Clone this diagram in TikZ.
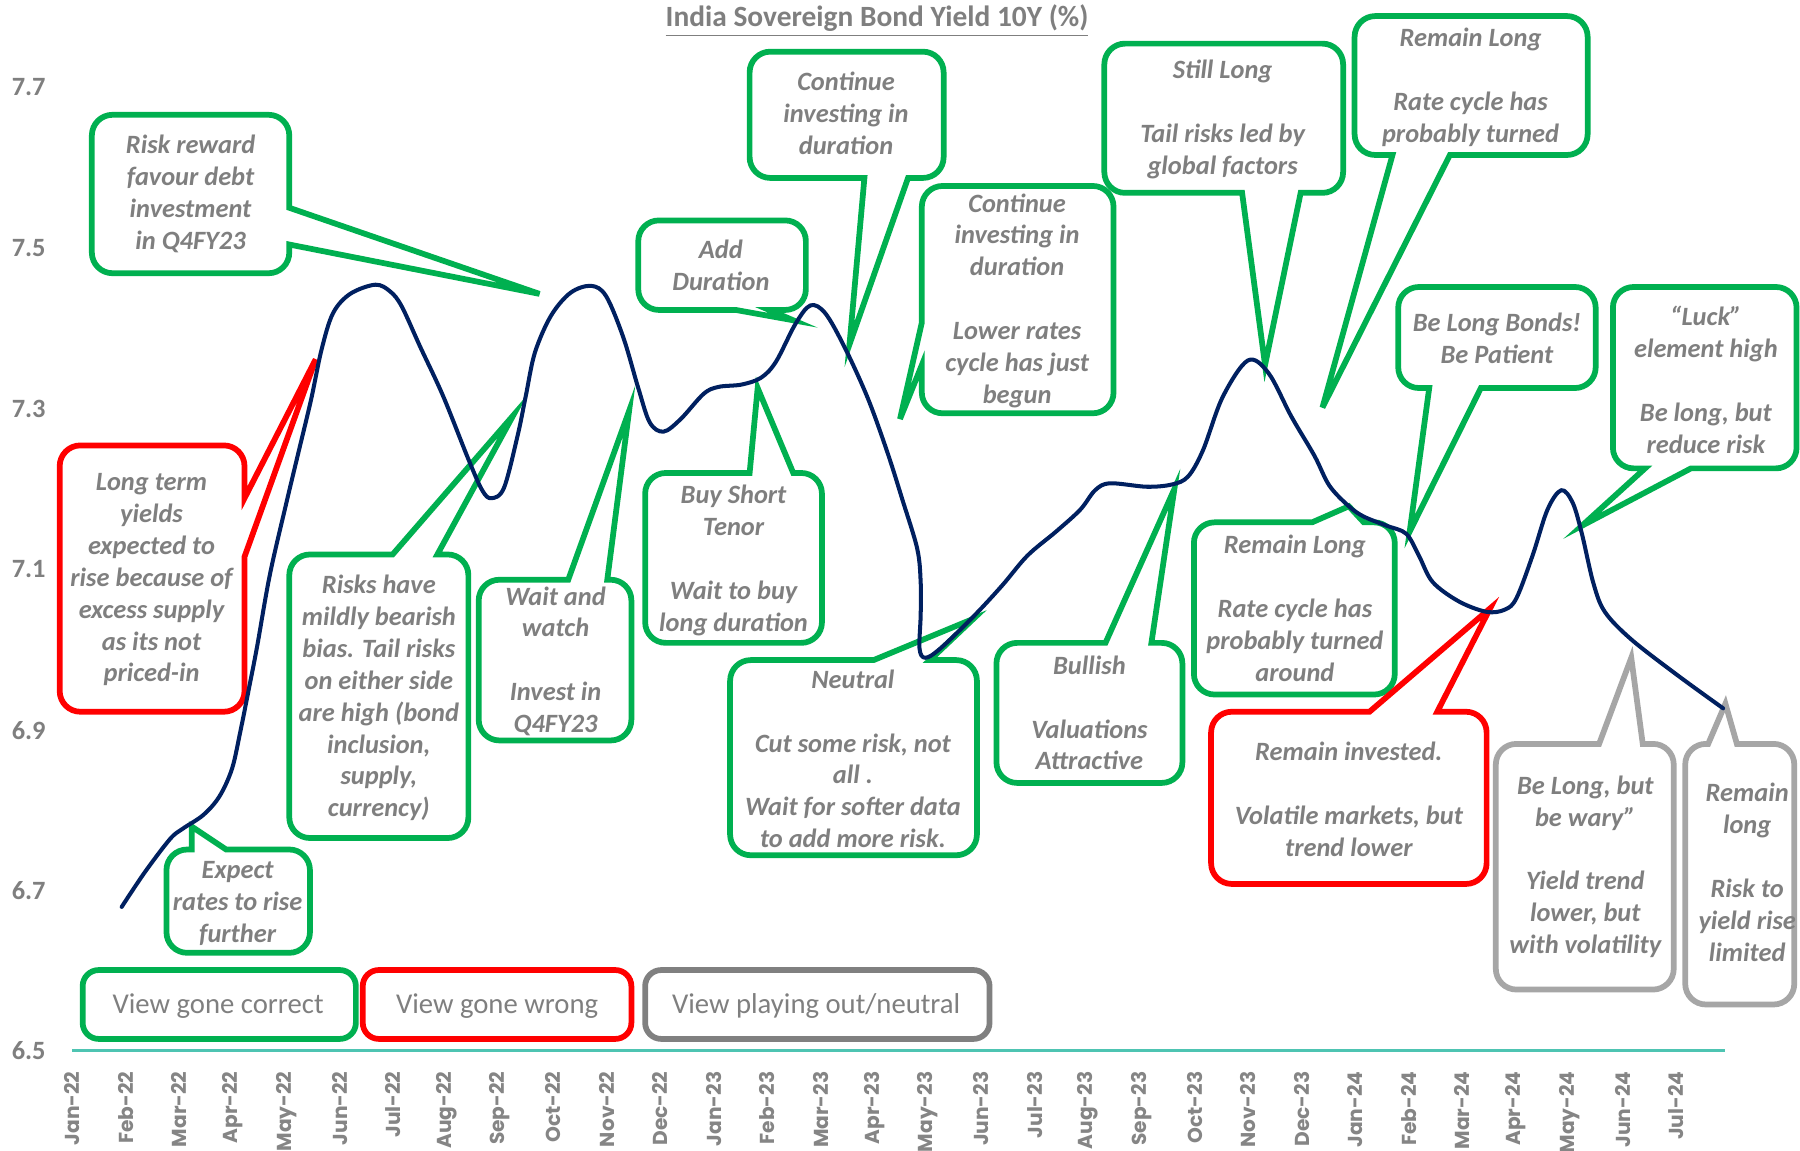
\documentclass[tikz,border=0pt]{standalone}
\usepackage{fontspec}
\setmainfont{Carlito}
\newfontfamily\monthfont{Poppins}
\definecolor{cgreen}{HTML}{00B050}
\definecolor{cred}{HTML}{FF0000}
\definecolor{cgrey}{HTML}{A6A6A6}
\definecolor{cdgrey}{HTML}{808080}
\definecolor{ctext}{HTML}{7F7F7F}
\definecolor{cnavy}{HTML}{002060}
\definecolor{cteal}{HTML}{4EC4B2}
\definecolor{cmonth}{HTML}{858585}
\tikzset{
  cbox/.style={line width=2.5pt, fill=white, line join=miter, rounded corners=9pt},
  gbox/.style={cbox, draw=cgreen},
  rbox/.style={cbox, draw=cred},
  ybox/.style={cbox, draw=cgrey},
  ctxt/.style={text=ctext, font=\fontsize{11.5}{13.9}\selectfont\bfseries\itshape, align=center, inner sep=0pt},
  legbox/.style={line width=2.5pt, rounded corners=7pt, fill=white},
  legtxt/.style={text=ctext, font=\fontsize{12.5}{15}\selectfont, inner sep=0pt},
  ylab/.style={text=ctext, font=\fontsize{11.5}{14}\selectfont\bfseries, inner sep=0pt},
  month/.style={text=cmonth, font=\monthfont\fontsize{8.8}{11}\selectfont\bfseries, rotate=90, anchor=east, inner sep=0pt},
  yieldcurve/.style={draw=cnavy, line width=1.75pt, line join=round, line cap=round},
  axisline/.style={draw=cteal, line width=1.5pt},
  titletxt/.style={text=ctext, font=\fontsize{12.8}{15}\selectfont\bfseries, inner sep=0pt}
}
% corners are rounded according to the setting in force when the path reaches them
% callout with pointer on top edge: style, x1,y1,x2,y2, xa,xb, tip
\newcommand\CallTop[8]{\draw[#1] (#2,{(#3+#5)/2}) -- (#2,#3) [sharp corners] -- (#6,#3) -- (#8) -- (#7,#3) [rounded corners=9pt] -- (#4,#3) -- (#4,#5) -- (#2,#5) -- cycle;}
% pointer on bottom edge
\newcommand\CallBot[8]{\draw[#1] (#2,{(#3+#5)/2}) -- (#2,#3) -- (#4,#3) -- (#4,#5) [sharp corners] -- (#7,#5) -- (#8) -- (#6,#5) [rounded corners=9pt] -- (#2,#5) -- cycle;}
% pointer on right edge: ya upper, yb lower
\newcommand\CallRight[8]{\draw[#1] (#2,{(#3+#5)/2}) -- (#2,#3) -- (#4,#3) [sharp corners] -- (#4,#6) -- (#8) -- (#4,#7) [rounded corners=9pt] -- (#4,#5) -- (#2,#5) -- cycle;}
% pointer on left edge: ya upper, yb lower
\newcommand\CallLeft[8]{\draw[#1] ({(#2+#4)/2},#3) -- (#4,#3) -- (#4,#5) -- (#2,#5) [sharp corners] -- (#2,#7) -- (#8) -- (#2,#6) [rounded corners=9pt] -- (#2,#3) -- cycle;}
\begin{document}
\begin{tikzpicture}[x=0.5pt, y=-0.5pt]
\useasboundingbox (0,0) rectangle (1568,1002);
\fill[white] (0,0) rectangle (1568,1002);

% title
\node[titletxt] (title) at (764,18) {\underline{India Sovereign Bond Yield 10Y (\%)}};

% y labels
\foreach \v/\yy/\nm in {7.7/76/a, 7.5/216/b, 7.3/356/c, 7.1/496/d, 6.9/636/e, 6.7/776/f, 6.5/915/g}
  \node[ylab] (ylab\nm) at (25,\yy) {\v};

% axis line
\coordinate (axL) at (63,915);
\coordinate (axR) at (1503,915);
\draw[axisline] (axL) -- (axR);

% month labels
\foreach \m [count=\i from 0] in {Jan-22,Feb-22,Mar-22,Apr-22,May-22,Jun-22,Jul-22,Aug-22,Sep-22,Oct-22,Nov-22,Dec-22,Jan-23,Feb-23,Mar-23,Apr-23,May-23,Jun-23,Jul-23,Aug-23,Sep-23,Oct-23,Nov-23,Dec-23,Jan-24,Feb-24,Mar-24,Apr-24,May-24,Jun-24,Jul-24}
  \node[month] (mon\i) at ({63+46.57*\i},933) {\m};

% legend
\draw[legbox, draw=cgreen] (72,845) rectangle (310,905);
\node[legtxt] (leg1) at (190,876) {View gone correct};
\draw[legbox, draw=cred] (316,845) rectangle (550,905);
\node[legtxt] (leg2) at (433,876) {View gone wrong};
\draw[legbox, draw=cdgrey] (562,845) rectangle (862,905);
\node[legtxt] (leg3) at (711,876) {View playing out/neutral};

% callouts
\CallRight{gbox}{80}{100}{252}{238}{181}{213}{470,256}
\node[ctxt] (t1) at (166,169) {Risk reward\\favour debt\\investment\\in Q4FY23};

\CallRight{rbox}{52}{388}{213}{620}{434}{485}{275,313}
\node[ctxt] (t2) at (132,505) {Long term\\yields\\expected to\\rise because of\\excess supply\\as its not\\priced-in};

\CallTop{gbox}{145}{740}{270}{830}{167}{197}{167,720}
\node[ctxt] (t3) at (207,787) {Expect\\rates to rise\\further};

\CallTop{gbox}{252}{483}{408}{730}{342}{381}{447,362}
\node[ctxt] (t4) at (330,608) {Risks have\\mildly bearish\\bias. Tail risks\\on either side\\are high (bond\\inclusion,\\supply,\\currency)};

\CallTop{gbox}{417}{505}{550}{645}{495}{529}{548,358}
\node[ctxt] (t5) at (484,576) {Wait and\\watch\\[13.9pt]Invest in\\Q4FY23};

\CallBot{gbox}{556}{192}{702}{270}{641}{670}{691,279}
\node[ctxt] (t6) at (628,231) {Add\\Duration};

\CallBot{gbox}{653}{45}{822}{155}{753}{791}{740,300}
\node[ctxt] (t7) at (737,99) {Continue\\investing in\\duration};

\CallLeft{gbox}{803}{162}{970}{360}{281}{318}{784,365}
\node[ctxt] (t8) at (886,262) {Continue\\investing in\\duration\\[13.9pt]Lower rates\\cycle has just\\begun};

\CallBot{gbox}{962}{38}{1170}{168}{1082}{1133}{1102,318}
\node[ctxt] (t9) at (1065,104) {Still Long\\[13.9pt]Tail risks led by\\global factors};

\CallBot{gbox}{1180}{14}{1383}{135}{1213}{1263}{1152,355}
\node[ctxt] (t10) at (1281,76) {Remain Long\\[13.9pt]Rate cycle has\\probably turned};

\CallBot{gbox}{1218}{250}{1390}{338}{1245}{1290}{1228,463}
\node[ctxt] (t11) at (1304,295) {Be Long Bonds!\\Be Patient};

\CallBot{gbox}{1405}{250}{1565}{408}{1433}{1473}{1378,458}
\node[ctxt] (t12) at (1486,331) {“Luck”\\element high\\[13.9pt]Be long, but\\reduce risk};

\CallTop{gbox}{562}{412}{716}{560}{653}{691}{660,338}
\node[ctxt] (t13) at (639,488) {Buy Short\\Tenor\\[13.9pt]Wait to buy\\long duration};

\CallTop{gbox}{636}{575}{851}{745}{761}{810}{848,539}
\node[ctxt] (t14) at (743,661) {Neutral\\[13.9pt]Cut some risk, not\\all .\\Wait for softer data\\to add more risk.};

\CallTop{gbox}{868}{560}{1030}{682}{963}{1003}{1023,426}
\node[ctxt] (t15) at (949,621) {Bullish\\[13.9pt]Valuations\\Attractive};

\CallTop{gbox}{1040}{455}{1215}{605}{1143}{1188}{1175,441}
\node[ctxt] (t16) at (1128,530) {Remain Long\\[13.9pt]Rate cycle has\\probably turned\\around};

\CallTop{rbox}{1055}{620}{1295}{770}{1193}{1252}{1298,530}
\node[ctxt] (t17) at (1175,696) {Remain invested.\\[13.9pt]Volatile markets, but\\trend lower};

\CallTop{ybox}{1303}{648}{1458}{862}{1393}{1431}{1421,573}
\node[ctxt] (t18) at (1381,755) {Be Long, but\\be wary”\\[13.9pt]Yield trend\\lower, but\\with volatility};

\CallTop{ybox}{1468}{648}{1563}{875}{1488}{1513}{1503,613}
\node[ctxt] (t19) at (1522,760) {Remain\\long\\[13.9pt]Risk to\\yield rise\\limited};

% yield curve
\draw[yieldcurve] plot[smooth, tension=0.55] coordinates {
(106,790) (126,760) (148,731) (159,722) (177,710) (191,694) (202,670) (209,639) (217,599) (224,563) (235,501) (249,440) (260,394) (271,348) (280,305) (290,273) (305,256) (327,248) (340,254) (350,267) (366,302) (386,345) (408,400) (420,427) (428,434) (439,425) (451,379) (458,345) (466,307) (480,275) (497,255) (515,249) (528,258) (543,294) (556,338) (566,368) (578,376) (593,365) (613,343) (626,337) (646,335) (663,329) (676,315) (693,282) (706,266) (719,273) (736,303) (756,347) (773,394) (786,435) (799,478) (802,507) (802,536) (801,565) (806,573) (819,565) (848,537) (873,510) (895,484) (920,463) (941,444) (954,427) (967,421) (999,424) (1021,422) (1035,415) (1048,392) (1065,346) (1087,314) (1105,325) (1125,363) (1145,397) (1158,423) (1175,441) (1188,450) (1208,458) (1225,465) (1236,484) (1248,507) (1271,524) (1295,533) (1311,531) (1321,521) (1335,484) (1348,444) (1360,427) (1370,438) (1378,465) (1388,508) (1398,533) (1421,557) (1461,588) (1501,617)};
\end{tikzpicture}
\end{document}
